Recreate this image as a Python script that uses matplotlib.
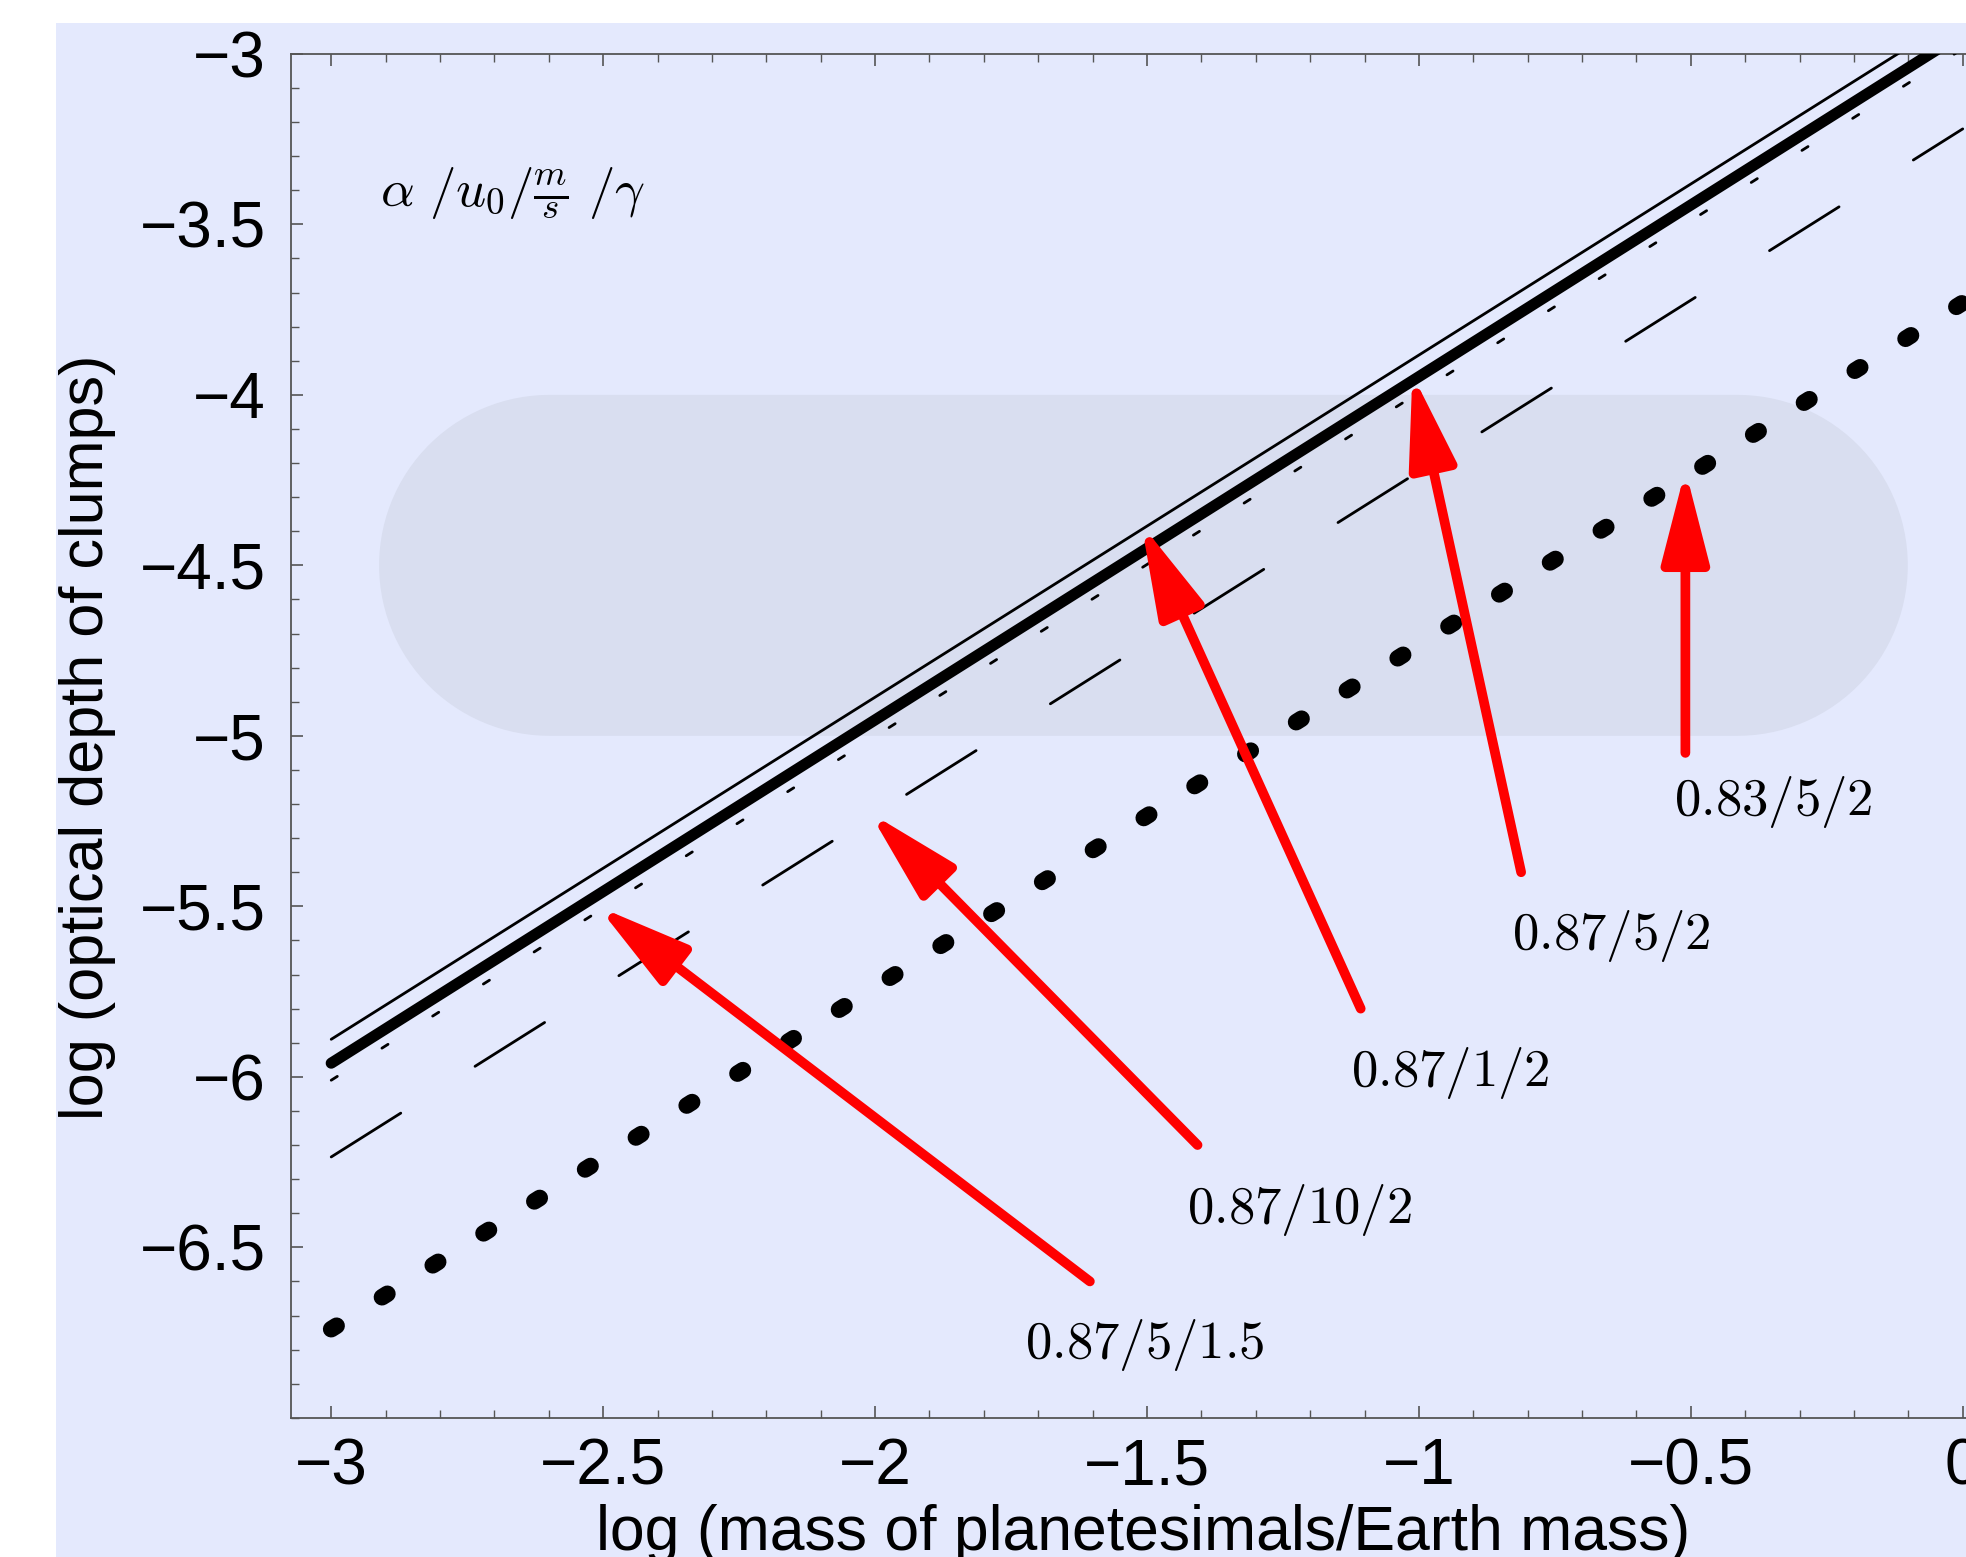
import numpy as np
import matplotlib
matplotlib.use("Agg")
import matplotlib.pyplot as plt
from matplotlib.patches import Rectangle, PathPatch
from matplotlib.path import Path

plt.rcParams['mathtext.fontset'] = 'cm'
plt.rcParams['font.family'] = ['Liberation Sans', 'DejaVu Sans']

# ---------------- data ----------------
line_x = [-3.0, 0.0]
thin_solid_y = [-5.89, -2.88]
thick_solid_y = [-5.96, -2.94]
fine_dash_y = [-6.01, -2.985]
long_dash_y = [-6.235, -3.22]
thick_dot_y = [-6.74, -3.73]

arrow_labels = ['0.87/5/1.5', '0.87/10/2', '0.87/1/2', '0.87/5/2', '0.83/5/2']
arrow_tail_x = [-1.605, -1.407, -1.107, -0.812, -0.51]
arrow_tail_y = [-6.60, -6.20, -5.80, -5.40, -5.05]
arrow_tip_x = [-2.51, -2.01, -1.51, -1.012, -0.51]
arrow_tip_y = [-5.50, -5.225, -4.38, -3.94, -4.22]
label_x = [-1.504, -1.22, -0.943, -0.646, -0.348]
label_y = [-6.787, -6.39, -5.99, -5.588, -5.195]

xtick_vals = [-3, -2.5, -2, -1.5, -1, -0.5, 0]
xtick_labels = ['\u22123', '\u22122.5', '\u22122', '\u22121.5', '\u22121', '\u22120.5', '0']
ytick_vals = [-3, -3.5, -4, -4.5, -5, -5.5, -6, -6.5]
ytick_labels = ['\u22123', '\u22123.5', '\u22124', '\u22124.5', '\u22125', '\u22125.5', '\u22126', '\u22126.5']

band_x = [-2.912, -0.101]
band_y = [-5.0, -4.0]

# ---------------- style ----------------
bg = '#E4E9FD'
band_color = '#D9DEF0'
W, H, DPI = 19.66, 15.57, 100

fig = plt.figure(figsize=(W, H), dpi=DPI)
fig.patch.set_facecolor('white')
fig.patches.append(Rectangle((0.0287, 0), 1.0, 0.9855, transform=fig.transFigure,
                             facecolor=bg, edgecolor='none', zorder=-10))

ax_pos = [0.148, 0.0894, 0.878, 0.876]
ax = fig.add_axes(ax_pos)
ax.set_zorder(2)
ax.set_facecolor(bg)
xlim = (-3.074, 0.1)
ylim = (-7.0, -3.0)
ax.set_xlim(*xlim)
ax.set_ylim(*ylim)

# stadium-shaped band
px_per_x = W * DPI * ax_pos[2] / (xlim[1] - xlim[0])
px_per_y = H * DPI * ax_pos[3] / (ylim[1] - ylim[0])
ry = (band_y[1] - band_y[0]) / 2
rx = ry * px_per_y / px_per_x
yc = (band_y[0] + band_y[1]) / 2
t1 = np.linspace(np.pi / 2, 3 * np.pi / 2, 60)
t2 = np.linspace(-np.pi / 2, np.pi / 2, 60)
lx = band_x[0] + rx + rx * np.cos(t1)
ly = yc + ry * np.sin(t1)
rxx = band_x[1] - rx + rx * np.cos(t2)
ryy = yc + ry * np.sin(t2)
verts = np.concatenate([np.column_stack([lx, ly]), np.column_stack([rxx, ryy])])
verts = np.vstack([verts, verts[:1]])
codes = [Path.MOVETO] + [Path.LINETO] * (len(verts) - 2) + [Path.CLOSEPOLY]
ax.add_patch(PathPatch(Path(verts, codes), facecolor=band_color, edgecolor='none', zorder=1))

# lines
ax.plot(line_x, thin_solid_y, color='black', lw=2.0, solid_capstyle='round', zorder=3)
ax.plot(line_x, thick_solid_y, color='black', lw=8.0, solid_capstyle='round', zorder=3)
ax.plot(line_x, fine_dash_y, color='black', lw=2.0, dashes=(2.6, 19.0),
        dash_capstyle='round', zorder=3)
ax.plot(line_x, long_dash_y, color='black', lw=2.0, dashes=(29.6, 31.6),
        dash_capstyle='round', zorder=3)
ax.plot(line_x, thick_dot_y, color='black', lw=12.0, dashes=(0.38, 3.22),
        dash_capstyle='round', zorder=3)

# arrows and labels
for lab, tx, ty, hx, hy, lxp, lyp in zip(arrow_labels, arrow_tail_x, arrow_tail_y,
                                          arrow_tip_x, arrow_tip_y, label_x, label_y):
    ax.annotate('', xy=(hx, hy), xytext=(tx, ty), xycoords='data', textcoords='data',
                arrowprops=dict(arrowstyle='-|>,head_length=3.5,head_width=0.9',
                                mutation_scale=16, lw=7.0, color='#FF0000',
                                shrinkA=0, shrinkB=0, capstyle='round', joinstyle='round'),
                zorder=4)
    ax.text(lxp, lyp, '$' + lab + '$', fontsize=38, ha='center', va='center', zorder=5)

ax.text(-2.91, -3.41, r'$\alpha\ /u_0/\frac{m}{s}\ /\gamma$', fontsize=38,
        ha='left', va='center', zorder=5)

# axes styling
for side in ['left', 'bottom', 'top', 'right']:
    ax.spines[side].set_color('#555555')
    ax.spines[side].set_linewidth(1.3)
ax.set_xticks(xtick_vals)
ax.set_xticklabels(xtick_labels)
ax.set_yticks(ytick_vals)
ax.set_yticklabels(ytick_labels)
ax.set_xticks(np.arange(-3.0, 0.1001, 0.1), minor=True)
ax.set_yticks(np.arange(-7.0, -2.999, 0.1), minor=True)
ax.tick_params(axis='both', which='both', direction='in', colors='#555555',
               labelcolor='black', labelsize=46, top=True, right=False)
ax.tick_params(which='major', length=8.6, width=1.2)
ax.tick_params(which='minor', length=5.5, width=1.0)
ax.tick_params(axis='x', pad=14)
ax.tick_params(axis='y', pad=18)

fig.text(0.0446, 0.5266, 'log (optical depth of clumps)', rotation=90,
         ha='center', va='center', fontsize=44)
fig.text(0.5816, 0.0150, 'log (mass of planetesimals/Earth mass)',
         ha='center', va='center', fontsize=45)

fig.savefig('out.png', dpi=DPI)
